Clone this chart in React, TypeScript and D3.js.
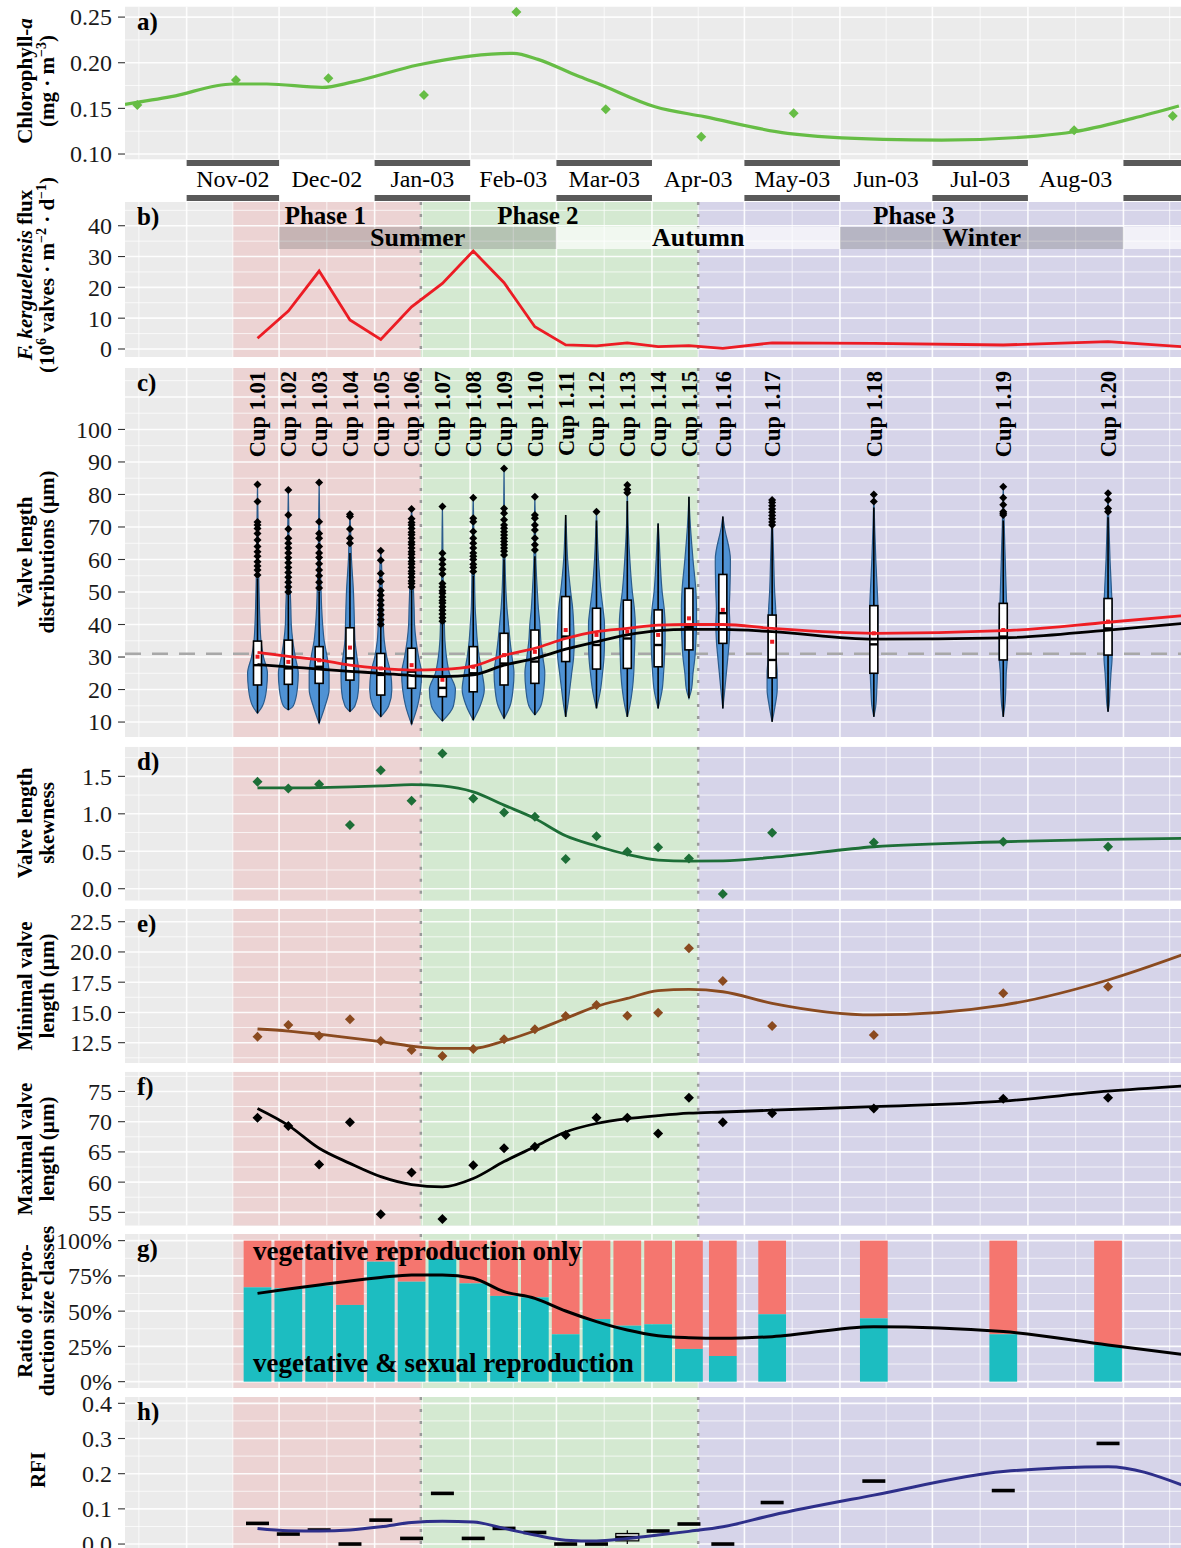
import { useEffect, useRef } from 'react';
import * as d3 from 'd3';

const parseDay = d3.utcParse('%Y-%m-%d');
const day = (s: string) => parseDay(s) as Date;

// sediment trap cups (centre dates)
const cupNames = ['Cup 1.01', 'Cup 1.02', 'Cup 1.03', 'Cup 1.04', 'Cup 1.05', 'Cup 1.06', 'Cup 1.07', 'Cup 1.08', 'Cup 1.09', 'Cup 1.10',
  'Cup 1.11', 'Cup 1.12', 'Cup 1.13', 'Cup 1.14', 'Cup 1.15', 'Cup 1.16', 'Cup 1.17', 'Cup 1.18', 'Cup 1.19', 'Cup 1.20'];
const cupDates = ['2002-11-24', '2002-12-04', '2002-12-14', '2002-12-24', '2003-01-03', '2003-01-13', '2003-01-23', '2003-02-02', '2003-02-12', '2003-02-22',
  '2003-03-04', '2003-03-14', '2003-03-24', '2003-04-03', '2003-04-13', '2003-04-24', '2003-05-10', '2003-06-12', '2003-07-24', '2003-08-27'];
// smooth curves and the flux line carry one more node at the right edge
const edgeDate = '2003-09-20';

// month strip
const monthStarts = ['2002-11-01', '2002-12-01', '2003-01-01', '2003-02-01', '2003-03-01', '2003-04-01', '2003-05-01', '2003-06-01', '2003-07-01', '2003-08-01', '2003-09-01'];
const monthLabels = ['Nov-02', 'Dec-02', 'Jan-03', 'Feb-03', 'Mar-03', 'Apr-03', 'May-03', 'Jun-03', 'Jul-03', 'Aug-03', ''];

// phases and seasons
const phaseNames = ['Phase 1', 'Phase 2', 'Phase 3'];
const phaseStarts = ['2002-11-16', '2003-01-16', '2003-04-16'];
const phaseEnds = ['2003-01-16', '2003-04-16', '2003-11-30'];
const phaseLabelDates = ['2002-12-16', '2003-02-23', '2003-06-25'];
const phaseColors = ['#ecd3d3', '#d4e9d1', '#d6d4e9'];
const seasonNames = ['Summer', 'Autumn', 'Winter', ''];
const seasonStarts = ['2002-12-01', '2003-03-01', '2003-06-01', '2003-09-01'];
const seasonEnds = ['2003-03-01', '2003-06-01', '2003-09-01', '2003-12-01'];

// a) chlorophyll-a
const chlDates = ['2002-10-16', '2002-11-17', '2002-12-17', '2003-01-17', '2003-02-16', '2003-03-17', '2003-04-17', '2003-05-17', '2003-08-16', '2003-09-17'];
const chlValues = [0.1537, 0.181, 0.183, 0.1646, 0.2555, 0.149, 0.119, 0.1446, 0.126, 0.1416];
const chlSmoothDates = ['2002-10-12', '2002-10-27', '2002-11-16', '2002-11-27', '2002-12-15', '2002-12-25', '2003-01-15', '2003-02-01', '2003-02-15', '2003-02-23',
  '2003-03-08', '2003-03-14', '2003-04-02', '2003-04-18', '2003-05-15', '2003-06-15', '2003-07-04', '2003-08-04', '2003-08-16', '2003-09-04', '2003-09-19'];
const chlSmooth = [0.1544, 0.1628, 0.1767, 0.1767, 0.173, 0.179, 0.1975, 0.2073, 0.2103, 0.2037,
  0.1854, 0.1778, 0.1518, 0.1409, 0.1227, 0.1161, 0.1153, 0.1197, 0.1244, 0.139, 0.1526];

// b) F. kerguelensis flux (cups + edge)
const fluxValues = [3.5, 12.3, 25.3, 9.4, 3.1, 13.7, 21.3, 31.8, 21.5, 7.2, 1.3, 1.0, 2.0, 0.75, 1.1, 0.2, 2.0, 1.8, 1.3, 2.4, 0.75];

// c) valve length distributions
const vMin = [12.7, 13.7, 9.6, 13.2, 11.6, 9.3, 10.3, 10.6, 11.1, 12.2, 11.6, 14.2, 11.6, 14.2, 17.3, 14.2, 10.1, 11.6, 11.6, 13.2];
const vMax = [83.1, 81.4, 83.7, 73.9, 62.7, 75.5, 76.3, 79, 88, 79.3, 73.7, 74.7, 82.9, 71.1, 79.3, 73.2, 78.3, 80, 82.4, 80.4];
const q1 = [21.4, 21.6, 21.9, 22.9, 18.3, 20.4, 17.8, 19.3, 21.4, 21.9, 28.6, 26.3, 26.5, 27, 32.2, 34.2, 23.6, 25, 29.1, 30.6];
const medians = [27.5, 26.5, 27, 29.6, 24.5, 25.5, 20.5, 25, 28, 28.6, 36.3, 33.7, 35.7, 33.7, 39.3, 43.5, 29.1, 33.9, 36.3, 38.8];
const q3 = [34.9, 35.2, 33.2, 39, 31.1, 32.7, 24, 33.2, 37.3, 38.3, 48.6, 45, 47.5, 44.5, 51.1, 55.4, 42.9, 45.8, 46.5, 48];
const means = [30.1, 28.5, 29, 32.9, 26.5, 27.5, 23, 27, 30.6, 31.6, 38.3, 36.8, 37.8, 36.8, 41.9, 44.5, 34.7, 37.3, 38.3, 40.9];
const whiskerHi = [54, 49, 50, 62, 39, 50.5, 40, 55, 60, 61, 73.7, 72, 78, 71.1, 79.3, 73.2, 70, 76, 72, 73];
const outliers = [
  [55.2, 56.8, 58, 59.3, 61, 62.4, 64, 66, 68, 69.5, 70.6, 71.5, 77.8, 83.1],
  [50, 51.5, 53, 54.5, 56, 57.5, 59, 60.5, 62, 63.5, 65, 66.5, 69.4, 73.7, 81.4],
  [51.2, 53, 55, 56.8, 58.7, 60.6, 62, 64, 66.5, 68, 71.6, 83.7],
  [65, 66.5, 69.4, 73.2, 73.9],
  [40, 41.5, 43, 44.5, 46, 47.5, 49, 50.5, 53.2, 55.7, 59.8, 62.7],
  [51.5, 52.6, 53.4, 54.5, 55.6, 56.4, 57.5, 58.6, 59.4, 60.5, 61.6, 62.4, 63.5, 64.6, 65.4, 66.5, 67.6, 68.4, 69.5, 70.6, 71.4, 72.5, 75.5],
  [41, 42.1, 43.2, 44.4, 45.5, 46.6, 47.4, 48.5, 49.6, 50.4, 51.5, 52.6, 55.5, 57, 58.5, 60, 61.9, 76.3],
  [56.3, 57.5, 58.5, 60, 61, 62, 63.5, 65, 66.5, 68.6, 71.6, 72.7, 79],
  [61.4, 62.5, 63.5, 64.5, 65.5, 66.5, 67.5, 68.5, 69.6, 70.6, 72.2, 74.2, 75.7, 88],
  [62.9, 64.5, 66.5, 69.1, 70.6, 72.7, 73.7, 79.3],
  [],
  [74.7],
  [80.5, 81.5, 82.9],
  [],
  [],
  [],
  [70.6, 71.5, 72.5, 73.5, 74.5, 75.5, 76.5, 77.5, 78.3],
  [77.8, 80],
  [73.7, 74.2, 74.7, 76.8, 79, 82.4],
  [74.7, 75.7, 78.3, 80.4],
];
// relative violin width at these lengths (µm)
const violinGrid = [15, 20, 25, 30, 35, 40, 45, 50, 60, 70];
const violinDensity = [
  [0.36, 0.64, 0.71, 0.43, 0.25, 0.18, 0.14, 0.11, 0.06, 0.04],
  [0.36, 0.64, 0.71, 0.5, 0.32, 0.21, 0.18, 0.14, 0.07, 0.04],
  [0.43, 0.71, 0.71, 0.57, 0.36, 0.25, 0.18, 0.14, 0.07, 0.04],
  [0.36, 0.61, 0.64, 0.5, 0.36, 0.32, 0.29, 0.25, 0.11, 0.04],
  [0.57, 0.79, 0.71, 0.43, 0.25, 0.18, 0.14, 0.11, 0.04, 0],
  [0.43, 0.64, 0.71, 0.5, 0.32, 0.21, 0.18, 0.14, 0.11, 0.07],
  [0.79, 0.93, 0.5, 0.29, 0.18, 0.14, 0.11, 0.07, 0.04, 0.02],
  [0.5, 0.79, 0.64, 0.43, 0.29, 0.21, 0.14, 0.11, 0.07, 0.04],
  [0.43, 0.64, 0.71, 0.57, 0.43, 0.32, 0.21, 0.14, 0.07, 0.04],
  [0.43, 0.64, 0.71, 0.57, 0.43, 0.36, 0.25, 0.18, 0.07, 0.04],
  [0.14, 0.29, 0.43, 0.57, 0.61, 0.57, 0.5, 0.36, 0.14, 0.04],
  [0.07, 0.29, 0.43, 0.54, 0.57, 0.57, 0.46, 0.32, 0.14, 0.04],
  [0.18, 0.36, 0.46, 0.5, 0.54, 0.57, 0.5, 0.36, 0.18, 0.06],
  [0.11, 0.29, 0.39, 0.46, 0.5, 0.5, 0.43, 0.29, 0.14, 0.02],
  [0, 0.18, 0.29, 0.43, 0.5, 0.54, 0.54, 0.5, 0.29, 0.11],
  [0.04, 0.14, 0.25, 0.36, 0.46, 0.5, 0.46, 0.5, 0.54, 0.11],
  [0.21, 0.36, 0.36, 0.29, 0.29, 0.29, 0.25, 0.18, 0.11, 0.04],
  [0.14, 0.21, 0.25, 0.25, 0.25, 0.29, 0.29, 0.25, 0.14, 0.06],
  [0.11, 0.18, 0.21, 0.29, 0.29, 0.29, 0.25, 0.21, 0.14, 0.07],
  [0.07, 0.14, 0.21, 0.29, 0.29, 0.29, 0.29, 0.25, 0.14, 0.07],
];
const referenceLength = 31;
const meanSmooth = [31.4, 30.2, 29.1, 27.5, 26.5, 26.0, 26.2, 27.2, 30.5, 32.7, 35.7, 37.8, 38.8, 39.8, 40.0, 40.0, 38.8, 37.3, 38.1, 40.7, 42.7];
const medianSmooth = [27.7, 27.0, 26.3, 25.6, 25.0, 24.3, 24.0, 24.5, 27.5, 29.6, 32.4, 34.7, 36.8, 38.1, 38.5, 38.5, 37.8, 35.5, 35.9, 38.3, 40.3];

// d) skewness
const skewness = [1.427, 1.338, 1.396, 0.849, 1.583, 1.174, 1.805, 1.205, 1.018, 0.96, 0.396, 0.7, 0.494, 0.552, 0.405, -0.071, 0.747, 0.618, 0.627, 0.56];
const skewSmooth = [1.347, 1.345, 1.35, 1.36, 1.373, 1.391, 1.373, 1.293, 1.116, 0.938, 0.707, 0.57, 0.458, 0.382, 0.369, 0.373, 0.418, 0.56, 0.627, 0.658, 0.671];

// e) minimal valve length
const minLength = [13.0, 13.96, 13.08, 14.43, 12.64, 11.89, 11.4, 11.98, 12.78, 13.6, 14.7, 15.61, 14.73, 14.98, 20.3, 17.6, 13.88, 13.13, 16.58, 17.13];
const minSmooth = [13.63, 13.46, 13.2, 12.9, 12.58, 12.22, 12.03, 12.03, 12.64, 13.49, 14.5, 15.5, 16.16, 16.8, 16.9, 16.71, 15.75, 14.79, 15.61, 17.68, 19.75];

// f) maximal valve length
const maxLength = [70.65, 69.3, 62.9, 69.9, 54.67, 61.6, 53.9, 62.8, 65.6, 65.85, 67.8, 70.65, 70.65, 68.06, 73.95, 69.9, 71.4, 72.2, 73.8, 73.95];
const maxSmooth = [72.2, 69.4, 65.6, 63.1, 60.9, 59.6, 59.2, 60.6, 63.4, 65.85, 68.3, 69.7, 70.5, 71, 71.4, 71.6, 71.9, 72.5, 73.4, 75.05, 75.9];

// g) share of vegetative & sexual reproduction size class
const sexualShare = [0.669, 0.662, 0.681, 0.544, 0.851, 0.709, 0.87, 0.697, 0.608, 0.598, 0.336, 0.444, 0.397, 0.407, 0.232, 0.182, 0.478, 0.449, 0.336, 0.26];
const shareSmooth = [0.626, 0.657, 0.686, 0.714, 0.738, 0.757, 0.757, 0.733, 0.638, 0.591, 0.501, 0.426, 0.366, 0.326, 0.312, 0.307, 0.319, 0.39, 0.355, 0.26, 0.194];

// h) RFI
const rfiMedian = [0.0587, 0.0284, 0.0398, 0.0, 0.068, 0.016, 0.144, 0.016, 0.0445, 0.033, 0.0, 0.0, 0.02, 0.037, 0.057, 0.0, 0.118, 0.179, 0.152, 0.286];
const rfiQ1 = [0.0587, 0.0284, 0.0398, 0.0, 0.068, 0.016, 0.144, 0.016, 0.0445, 0.033, 0.0, 0.0, 0.009, 0.037, 0.057, 0.0, 0.118, 0.179, 0.152, 0.286];
const rfiQ3 = [0.0587, 0.0284, 0.0398, 0.0, 0.068, 0.016, 0.144, 0.016, 0.0445, 0.033, 0.0, 0.0, 0.03, 0.037, 0.057, 0.0, 0.118, 0.179, 0.152, 0.286];
const rfiLow = [0.0587, 0.0284, 0.0398, 0.0, 0.068, 0.016, 0.144, 0.016, 0.0445, 0.033, 0.0, 0.0, 0.0, 0.037, 0.057, 0.0, 0.118, 0.179, 0.152, 0.286];
const rfiHigh = [0.0587, 0.0284, 0.0398, 0.0, 0.068, 0.016, 0.144, 0.016, 0.0445, 0.033, 0.0, 0.0, 0.039, 0.037, 0.057, 0.0, 0.118, 0.179, 0.152, 0.286];
const rfiSmooth = [0.0445, 0.038, 0.037, 0.04, 0.049, 0.061, 0.065, 0.063, 0.0445, 0.0256, 0.011, 0.0085, 0.016, 0.0256, 0.036, 0.049, 0.082, 0.139, 0.206, 0.22, 0.168];

const W = 1181;
const H = 1548;
const LEFT = 125;
const RIGHT = 1181;
const SERIF = '"Liberation Serif", "Times New Roman", Times, serif';

type Seg = { t: string; it?: boolean; sup?: boolean };

function diamond(r: number) {
  return `M0,${-r}L${r},0L0,${r}L${-r},0Z`;
}

export default function App() {
  const ref = useRef<SVGSVGElement | null>(null);

  useEffect(() => {
    const node = ref.current;
    if (!node) return;
    const svg = d3.select(node);
    svg.selectAll('*').remove();

    const x = d3.scaleUtc().domain([day('2002-10-12'), day(edgeDate)]).range([LEFT, RIGHT + 1]);
    const cupX = cupDates.map((d) => x(day(d)));
    const nodeX = [...cupX, x(day(edgeDate))];
    const majorMonths = d3.utcMonth.range(day('2002-10-01'), day('2003-10-02'));
    const minorMonths = majorMonths.slice(1).map((m, i) => new Date((+m + +majorMonths[i]) / 2));
    const defs = svg.append('defs');

    const text = (parent: any, size: number, weight = 'normal') =>
      parent.append('text').attr('font-family', SERIF).attr('font-size', size).attr('font-weight', weight).attr('fill', '#000');

    function axisTitle(lines: Seg[][], cy: number, baselines: number[]) {
      lines.forEach((segs, li) => {
        const t = text(svg, 21, 'bold')
          .attr('transform', `translate(${baselines[li]},${cy}) rotate(-90)`)
          .attr('text-anchor', 'middle');
        let raised = false;
        segs.forEach((s) => {
          const sp = t.append('tspan').text(s.t);
          if (s.it) sp.attr('font-style', 'italic');
          if (s.sup) {
            sp.attr('font-size', 14);
            if (!raised) { sp.attr('dy', -8); raised = true; }
          } else if (raised) {
            sp.attr('dy', 8);
            raised = false;
          }
        });
      });
    }

    function panel(key: string, cfg: any) {
      const y = d3.scaleLinear().domain(cfg.domain).range([cfg.bottom, cfg.top]);
      const h = cfg.bottom - cfg.top;
      const id = `clip-${key}`;
      defs.append('clipPath').attr('id', id).append('rect')
        .attr('x', LEFT).attr('y', cfg.top).attr('width', RIGHT - LEFT).attr('height', h);
      const g = svg.append('g').attr('clip-path', `url(#${id})`);
      g.append('rect').attr('x', LEFT).attr('y', cfg.top).attr('width', RIGHT - LEFT).attr('height', h).attr('fill', '#ebebeb');
      if (cfg.shaded) {
        phaseStarts.forEach((s, i) => {
          const x0 = x(day(s));
          const x1 = x(day(phaseEnds[i]));
          g.append('rect').attr('x', x0).attr('y', cfg.top).attr('width', x1 - x0).attr('height', h).attr('fill', phaseColors[i]);
        });
      }
      const hline = (v: number, w: number) =>
        g.append('line').attr('x1', LEFT).attr('x2', RIGHT).attr('y1', y(v)).attr('y2', y(v))
          .attr('stroke', '#fff').attr('stroke-width', w).attr('stroke-opacity', 0.9);
      const vline = (d: Date, w: number) =>
        g.append('line').attr('x1', x(d)).attr('x2', x(d)).attr('y1', cfg.top).attr('y2', cfg.bottom)
          .attr('stroke', '#fff').attr('stroke-width', w).attr('stroke-opacity', 0.9);
      cfg.minor.forEach((v: number) => hline(v, 0.8));
      minorMonths.forEach((d) => vline(d, 0.8));
      cfg.grid.forEach((v: number) => hline(v, 1.6));
      majorMonths.forEach((d) => vline(d, 1.6));
      if (cfg.shaded) {
        [phaseStarts[1], phaseStarts[2]].forEach((s) => {
          g.append('line').attr('x1', x(day(s))).attr('x2', x(day(s))).attr('y1', cfg.top).attr('y2', cfg.bottom)
            .attr('stroke', '#9a9a9a').attr('stroke-width', 2.5).attr('stroke-dasharray', '3,9');
        });
      }
      cfg.ticks.forEach((v: number) => {
        svg.append('line').attr('x1', LEFT - 7).attr('x2', LEFT).attr('y1', y(v)).attr('y2', y(v))
          .attr('stroke', '#333').attr('stroke-width', 1.1);
        text(svg, 24).attr('x', LEFT - 13).attr('y', y(v)).attr('dy', '0.35em').attr('text-anchor', 'end')
          .attr('fill', '#1a1a1a').text(cfg.fmt(v));
      });
      const plot = svg.append('g').attr('clip-path', `url(#${id})`);
      const letter = text(svg, 25, 'bold').attr('x', 137).attr('y', cfg.top + 23).text(`${key})`);
      return { y, g, plot, letter, top: cfg.top, bottom: cfg.bottom };
    }

    const smoothLine = (y: any) =>
      d3.line<number>().x((_, i) => nodeX[i]).y((v) => y(v)).curve(d3.curveMonotoneX);

    const points = (plot: any, y: any, values: number[], color: string, r: number) => {
      values.forEach((v, i) => {
        plot.append('path').attr('d', diamond(r)).attr('transform', `translate(${cupX[i]},${y(v)})`).attr('fill', color);
      });
    };

    // ---------- a) chlorophyll
    const pa = panel('a', {
      top: 6.5, bottom: 159.5, domain: [0.094, 0.2616],
      ticks: [0.1, 0.15, 0.2, 0.25], grid: [0.1, 0.15, 0.2, 0.25], minor: [0.125, 0.175, 0.225],
      fmt: d3.format('.2f'), shaded: false,
    });
    pa.plot.append('path')
      .attr('d', d3.line<number>().x((_, i) => x(day(chlSmoothDates[i]))).y((v) => pa.y(v)).curve(d3.curveMonotoneX)(chlSmooth))
      .attr('fill', 'none').attr('stroke', '#66bd45').attr('stroke-width', 3.2);
    chlValues.forEach((v, i) => {
      pa.plot.append('path').attr('d', diamond(5)).attr('transform', `translate(${x(day(chlDates[i]))},${pa.y(v)})`).attr('fill', '#66bd45');
    });
    axisTitle([[{ t: 'Chlorophyll-' }, { t: 'a', it: true }], [{ t: '(mg · m' }, { t: '−3', sup: true }, { t: ')' }]], 81, [32, 54]);

    // ---------- month strip
    monthStarts.forEach((s, i) => {
      const a = day(s);
      const b = d3.utcMonth.offset(a, 1);
      const x0 = x(a);
      const x1 = Math.min(x(b), RIGHT);
      if (i % 2 === 0) {
        [160, 195].forEach((yy) => svg.append('rect').attr('x', x0).attr('y', yy).attr('width', x1 - x0).attr('height', 6).attr('fill', '#595959'));
      }
      if (monthLabels[i]) {
        text(svg, 24).attr('x', (x(a) + x(b)) / 2).attr('y', 187).attr('text-anchor', 'middle').text(monthLabels[i]);
      }
    });

    // ---------- b) flux
    const pb = panel('b', {
      top: 202, bottom: 357, domain: [-2.6, 47.7],
      ticks: [0, 10, 20, 30, 40], grid: [0, 10, 20, 30, 40], minor: [5, 15, 25, 35, 45],
      fmt: d3.format('d'), shaded: true,
    });
    seasonStarts.forEach((s, i) => {
      const x0 = x(day(s));
      const x1 = x(day(seasonEnds[i]));
      const grey = i % 2 === 0;
      pb.g.append('rect').attr('x', x0).attr('y', 227).attr('width', x1 - x0).attr('height', 22)
        .attr('fill', grey ? '#6e6e6e' : '#ffffff').attr('fill-opacity', grey ? 0.3 : 0.68);
    });
    pb.plot.append('path')
      .attr('d', d3.line<number>().x((_, i) => nodeX[i]).y((v) => pb.y(v))(fluxValues))
      .attr('fill', 'none').attr('stroke', '#ec1c24').attr('stroke-width', 2.8);
    seasonNames.forEach((n, i) => {
      if (!n) return;
      const xc = (x(day(seasonStarts[i])) + x(day(seasonEnds[i]))) / 2;
      text(pb.plot, 26, 'bold').attr('x', xc).attr('y', 246).attr('text-anchor', 'middle').text(n);
    });
    phaseNames.forEach((n, i) => {
      text(pb.plot, 25, 'bold').attr('x', x(day(phaseLabelDates[i]))).attr('y', 224).attr('text-anchor', 'middle').text(n);
    });
    axisTitle([
      [{ t: 'F. kerguelensis', it: true }, { t: ' flux' }],
      [{ t: '(10' }, { t: '6', sup: true }, { t: ' valves · m' }, { t: '−2', sup: true }, { t: ' · d' }, { t: '−1', sup: true }, { t: ')' }],
    ], 275, [32, 54]);

    // ---------- c) valve length distributions
    const pc = panel('c', {
      top: 368, bottom: 737, domain: [5.4, 118.9],
      ticks: [10, 20, 30, 40, 50, 60, 70, 80, 90, 100], grid: [10, 20, 30, 40, 50, 60, 70, 80, 90, 100, 110],
      minor: [15, 25, 35, 45, 55, 65, 75, 85, 95, 105, 115],
      fmt: d3.format('d'), shaded: true,
    });
    const yc = pc.y;
    pc.plot.append('line').attr('x1', LEFT).attr('x2', RIGHT).attr('y1', yc(referenceLength)).attr('y2', yc(referenceLength))
      .attr('stroke', '#a8a8a8').attr('stroke-width', 2.6).attr('stroke-dasharray', '16,11');
    const wScale = d3.scaleLinear().domain([0, 1]).range([0, 14]);
    cupX.forEach((cx, i) => {
      const pts: [number, number][] = [[vMin[i], 0]];
      violinGrid.forEach((v, k) => {
        if (v > vMin[i] + 0.8 && v < vMax[i] - 0.8) pts.push([v, violinDensity[i][k]]);
      });
      pts.push([vMax[i], 0]);
      const area = d3.area<[number, number]>()
        .y((d) => yc(d[0]))
        .x0((d) => cx - wScale(d[1]))
        .x1((d) => cx + wScale(d[1]))
        .curve(d3.curveMonotoneY);
      pc.plot.append('path').attr('d', area(pts)).attr('fill', '#4f92d4').attr('stroke', '#2a5b8c').attr('stroke-width', 1.2);
    });
    cupX.forEach((cx, i) => {
      pc.plot.append('line').attr('x1', cx).attr('x2', cx).attr('y1', yc(q3[i])).attr('y2', yc(whiskerHi[i])).attr('stroke', '#000').attr('stroke-width', 1.6);
      pc.plot.append('line').attr('x1', cx).attr('x2', cx).attr('y1', yc(q1[i])).attr('y2', yc(vMin[i])).attr('stroke', '#000').attr('stroke-width', 1.6);
      pc.plot.append('rect').attr('x', cx - 4).attr('y', yc(q3[i])).attr('width', 8).attr('height', yc(q1[i]) - yc(q3[i]))
        .attr('fill', '#fff').attr('stroke', '#000').attr('stroke-width', 1.6);
      pc.plot.append('line').attr('x1', cx - 4).attr('x2', cx + 4).attr('y1', yc(medians[i])).attr('y2', yc(medians[i])).attr('stroke', '#000').attr('stroke-width', 2.4);
      pc.plot.append('rect').attr('x', cx - 2).attr('y', yc(means[i]) - 2).attr('width', 4).attr('height', 4).attr('fill', '#ee1d23');
      outliers[i].forEach((v) => {
        pc.plot.append('path').attr('d', diamond(4)).attr('transform', `translate(${cx},${yc(v)})`).attr('fill', '#000');
      });
      text(pc.plot, 22.5, 'bold').attr('transform', `translate(${cx},371) rotate(-90)`).attr('text-anchor', 'end').attr('dy', '0.35em').text(cupNames[i]);
    });
    pc.plot.append('path').attr('d', smoothLine(yc)(meanSmooth)).attr('fill', 'none').attr('stroke', '#ee1d23').attr('stroke-width', 2.8);
    pc.plot.append('path').attr('d', smoothLine(yc)(medianSmooth)).attr('fill', 'none').attr('stroke', '#000').attr('stroke-width', 2.8);
    pc.letter.raise();
    axisTitle([[{ t: 'Valve length' }], [{ t: 'distributions (µm)' }]], 552, [32, 54]);

    // ---------- d) skewness
    const pd = panel('d', {
      top: 746.7, bottom: 900.7, domain: [-0.16, 1.896],
      ticks: [0, 0.5, 1, 1.5], grid: [0, 0.5, 1, 1.5], minor: [0.25, 0.75, 1.25, 1.75],
      fmt: d3.format('.1f'), shaded: true,
    });
    pd.plot.append('path').attr('d', smoothLine(pd.y)(skewSmooth)).attr('fill', 'none').attr('stroke', '#1d6e37').attr('stroke-width', 2.8);
    points(pd.plot, pd.y, skewness, '#1d6e37', 5);
    axisTitle([[{ t: 'Valve length' }], [{ t: 'skewness' }]], 823, [32, 54]);

    // ---------- e) minimal valve length
    const pe = panel('e', {
      top: 909, bottom: 1063, domain: [10.82, 23.55],
      ticks: [12.5, 15, 17.5, 20, 22.5], grid: [12.5, 15, 17.5, 20, 22.5], minor: [11.25, 13.75, 16.25, 18.75, 21.25],
      fmt: d3.format('.1f'), shaded: true,
    });
    pe.plot.append('path').attr('d', smoothLine(pe.y)(minSmooth)).attr('fill', 'none').attr('stroke', '#8a4a1f').attr('stroke-width', 2.8);
    points(pe.plot, pe.y, minLength, '#8a4a1f', 5);
    axisTitle([[{ t: 'Minimal valve' }], [{ t: 'length (µm)' }]], 986, [32, 54]);

    // ---------- f) maximal valve length
    const pf = panel('f', {
      top: 1071.7, bottom: 1225.7, domain: [52.79, 78.27],
      ticks: [55, 60, 65, 70, 75], grid: [55, 60, 65, 70, 75], minor: [57.5, 62.5, 67.5, 72.5, 77.5],
      fmt: d3.format('d'), shaded: true,
    });
    pf.plot.append('path').attr('d', smoothLine(pf.y)(maxSmooth)).attr('fill', 'none').attr('stroke', '#000').attr('stroke-width', 2.8);
    points(pf.plot, pf.y, maxLength, '#000', 5);
    axisTitle([[{ t: 'Maximal valve' }], [{ t: 'length (µm)' }]], 1149, [32, 54]);

    // ---------- g) reproduction size classes
    const pg = panel('g', {
      top: 1234, bottom: 1388, domain: [-0.045, 1.047],
      ticks: [0, 0.25, 0.5, 0.75, 1], grid: [0, 0.25, 0.5, 0.75, 1], minor: [0.125, 0.375, 0.625, 0.875],
      fmt: d3.format('.0%'), shaded: true,
    });
    cupDates.forEach((d, i) => {
      const a = x(d3.utcHour.offset(day(d), -108));
      const b = x(d3.utcHour.offset(day(d), 108));
      pg.plot.append('rect').attr('x', a).attr('width', b - a).attr('y', pg.y(1)).attr('height', pg.y(sexualShare[i]) - pg.y(1)).attr('fill', '#f5766f');
      pg.plot.append('rect').attr('x', a).attr('width', b - a).attr('y', pg.y(sexualShare[i])).attr('height', pg.y(0) - pg.y(sexualShare[i])).attr('fill', '#1cbdc1');
    });
    pg.plot.append('path').attr('d', smoothLine(pg.y)(shareSmooth)).attr('fill', 'none').attr('stroke', '#000').attr('stroke-width', 3);
    text(pg.plot, 27, 'bold').attr('x', 253).attr('y', 1260).text('vegetative reproduction only');
    text(pg.plot, 27, 'bold').attr('x', 253).attr('y', 1372).text('vegetative & sexual reproduction');
    axisTitle([[{ t: 'Ratio of repro-' }], [{ t: 'duction size classes' }]], 1311, [32, 54]);

    // ---------- h) RFI
    const ph = panel('h', {
      top: 1397, bottom: 1556, domain: [-0.034, 0.418],
      ticks: [0, 0.1, 0.2, 0.3, 0.4], grid: [0, 0.1, 0.2, 0.3, 0.4], minor: [0.05, 0.15, 0.25, 0.35],
      fmt: d3.format('.1f'), shaded: true,
    });
    const yh = ph.y;
    cupX.forEach((cx, i) => {
      if (rfiQ3[i] > rfiQ1[i]) {
        ph.plot.append('line').attr('x1', cx).attr('x2', cx).attr('y1', yh(rfiLow[i])).attr('y2', yh(rfiHigh[i])).attr('stroke', '#000').attr('stroke-width', 1.2);
        ph.plot.append('rect').attr('x', cx - 11.5).attr('width', 23).attr('y', yh(rfiQ3[i])).attr('height', yh(rfiQ1[i]) - yh(rfiQ3[i]))
          .attr('fill', '#c8c8c8').attr('stroke', '#000').attr('stroke-width', 1.2);
        ph.plot.append('line').attr('x1', cx - 11.5).attr('x2', cx + 11.5).attr('y1', yh(rfiMedian[i])).attr('y2', yh(rfiMedian[i])).attr('stroke', '#000').attr('stroke-width', 2);
      } else {
        ph.plot.append('rect').attr('x', cx - 11.5).attr('width', 23).attr('y', yh(rfiMedian[i]) - 1.8).attr('height', 3.6).attr('fill', '#000');
      }
    });
    ph.plot.append('path').attr('d', smoothLine(yh)(rfiSmooth)).attr('fill', 'none').attr('stroke', '#2e2f8a').attr('stroke-width', 3);
    axisTitle([[{ t: 'RFI' }]], 1470, [45]);
  }, []);

  return (
    <svg
      ref={ref}
      width={W}
      height={H}
      viewBox={`0 0 ${W} ${H}`}
      style={{ position: 'absolute', left: 0, top: 0, background: '#ffffff', display: 'block' }}
    />
  );
}
